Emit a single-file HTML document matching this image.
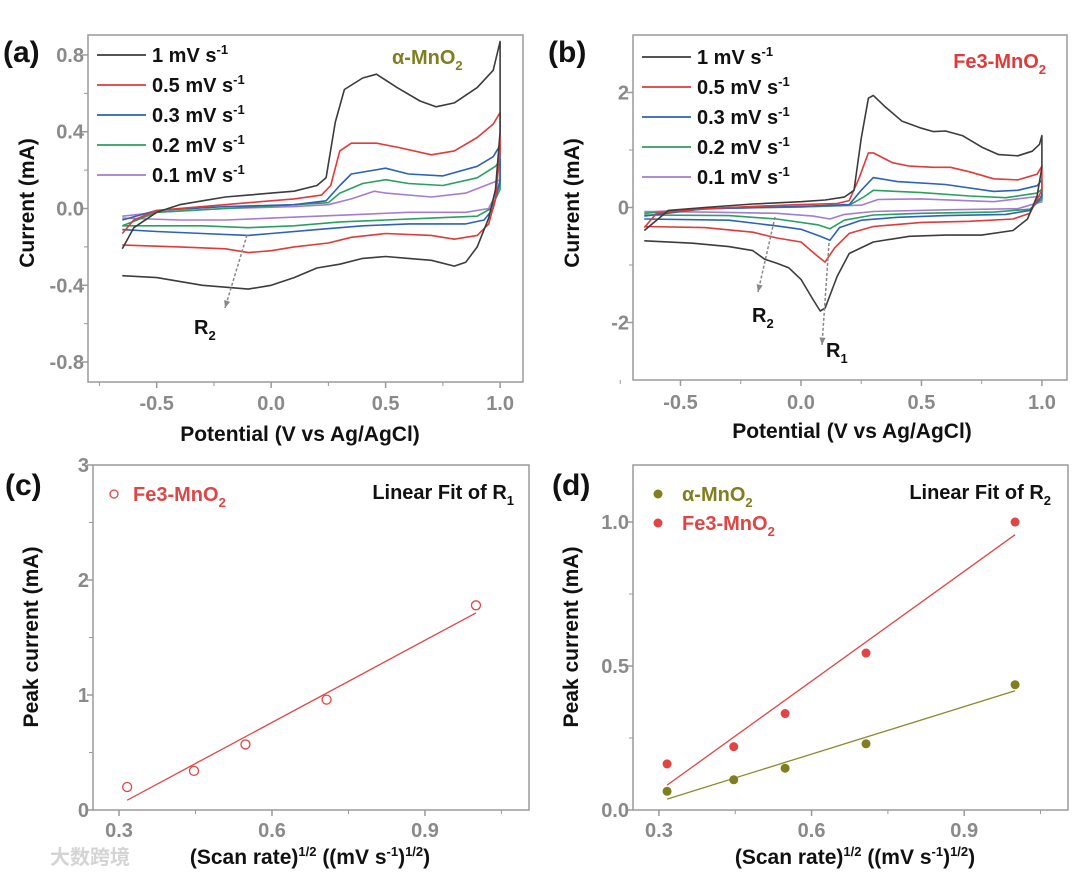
<!DOCTYPE html>
<html><head><meta charset="utf-8">
<style>
html,body{margin:0;padding:0;background:#fff;}
svg{display:block;font-family:"Liberation Sans","Noto Sans CJK SC",sans-serif;}
.tick{fill:#8a8a8a;font-weight:bold;font-size:20px;}
.title{fill:#111;font-weight:bold;font-size:21px;}
.leg{fill:#111;font-weight:bold;font-size:20px;}
.pl{fill:#111;font-weight:bold;font-size:30px;}
</style></head>
<body>
<svg id="fig" width="1080" height="874" viewBox="0 0 1080 874"></svg>
<script>
// ---------- DATA ----------
const scanRates = ["1","0.5","0.3","0.2","0.1"];
const cvColors = ["#3c3c3c","#e03a3a","#2c62b8","#29a05e","#a57ccf"];
// panel (a) alpha-MnO2: [potential, current] forward and reverse sweeps
const aFwd = [
 [[-0.65,-0.21],[-0.6,-0.1],[-0.5,-0.02],[-0.4,0.02],[-0.3,0.04],[-0.2,0.06],[-0.1,0.07],[0,0.08],[0.1,0.09],[0.2,0.12],[0.24,0.16],[0.28,0.45],[0.32,0.62],[0.4,0.68],[0.46,0.7],[0.55,0.63],[0.65,0.56],[0.72,0.53],[0.8,0.55],[0.9,0.63],[0.97,0.72],[1.0,0.87]],
 [[-0.65,-0.13],[-0.6,-0.06],[-0.5,-0.01],[-0.3,0.01],[-0.1,0.03],[0.1,0.05],[0.22,0.07],[0.26,0.12],[0.3,0.3],[0.35,0.34],[0.46,0.34],[0.55,0.32],[0.7,0.28],[0.8,0.3],[0.9,0.37],[0.97,0.44],[1.0,0.5]],
 [[-0.65,-0.06],[-0.5,-0.01],[-0.2,0.01],[0.1,0.02],[0.24,0.04],[0.3,0.12],[0.35,0.18],[0.5,0.21],[0.6,0.18],[0.75,0.17],[0.9,0.22],[0.97,0.27],[1.0,0.33]],
 [[-0.65,-0.09],[-0.5,-0.02],[-0.2,0.0],[0.1,0.02],[0.25,0.03],[0.3,0.08],[0.4,0.13],[0.5,0.15],[0.6,0.13],[0.75,0.12],[0.9,0.16],[0.98,0.22],[1.0,0.25]],
 [[-0.65,-0.04],[-0.5,-0.02],[-0.2,0.0],[0.1,0.01],[0.25,0.02],[0.35,0.05],[0.45,0.09],[0.5,0.08],[0.7,0.06],[0.85,0.08],[1.0,0.15]]
];
const aRev = [
 [[1.0,0.4],[0.98,0.1],[0.95,-0.05],[0.9,-0.2],[0.85,-0.28],[0.8,-0.3],[0.7,-0.27],[0.6,-0.26],[0.5,-0.25],[0.4,-0.26],[0.3,-0.29],[0.2,-0.31],[0.1,-0.36],[0,-0.4],[-0.1,-0.42],[-0.2,-0.41],[-0.3,-0.4],[-0.4,-0.38],[-0.5,-0.36],[-0.65,-0.35]],
 [[1.0,0.3],[0.98,0.05],[0.95,-0.08],[0.9,-0.14],[0.8,-0.16],[0.7,-0.14],[0.5,-0.13],[0.35,-0.15],[0.25,-0.18],[0.1,-0.2],[0,-0.22],[-0.1,-0.23],[-0.2,-0.21],[-0.4,-0.2],[-0.65,-0.19]],
 [[1.0,0.15],[0.97,0.0],[0.93,-0.06],[0.85,-0.08],[0.6,-0.08],[0.4,-0.09],[0.2,-0.11],[0.0,-0.13],[-0.1,-0.14],[-0.3,-0.13],[-0.5,-0.12],[-0.65,-0.11]],
 [[1.0,0.1],[0.96,0.0],[0.9,-0.04],[0.7,-0.05],[0.5,-0.06],[0.3,-0.07],[0.1,-0.09],[-0.1,-0.1],[-0.3,-0.09],[-0.5,-0.09],[-0.65,-0.09]],
 [[1.0,0.12],[0.95,0.0],[0.85,-0.02],[0.6,-0.02],[0.4,-0.03],[0.2,-0.04],[0,-0.05],[-0.2,-0.06],[-0.4,-0.06],[-0.65,-0.05]]
];
// panel (b) Fe3-MnO2
const bFwd = [
 [[-0.65,-0.4],[-0.55,-0.05],[-0.4,0.0],[-0.2,0.06],[0,0.1],[0.1,0.13],[0.18,0.18],[0.22,0.3],[0.25,1.2],[0.28,1.9],[0.3,1.95],[0.35,1.75],[0.42,1.5],[0.5,1.38],[0.55,1.32],[0.6,1.33],[0.67,1.25],[0.75,1.05],[0.82,0.92],[0.9,0.9],[0.96,0.98],[0.99,1.1],[1.0,1.25]],
 [[-0.65,-0.35],[-0.6,-0.1],[-0.4,-0.02],[-0.2,0.02],[0,0.05],[0.15,0.07],[0.2,0.12],[0.24,0.5],[0.28,0.95],[0.3,0.95],[0.38,0.78],[0.45,0.72],[0.55,0.7],[0.62,0.7],[0.7,0.62],[0.8,0.5],[0.9,0.48],[0.98,0.58],[1.0,0.72]],
 [[-0.65,-0.15],[-0.4,-0.02],[0,0.02],[0.2,0.05],[0.25,0.3],[0.3,0.52],[0.4,0.45],[0.6,0.4],[0.8,0.28],[0.9,0.3],[0.98,0.38],[1.0,0.48]],
 [[-0.65,-0.1],[-0.4,-0.02],[0,0.01],[0.2,0.04],[0.26,0.18],[0.3,0.3],[0.5,0.26],[0.7,0.2],[0.85,0.17],[0.98,0.25],[1.0,0.32]],
 [[-0.65,-0.08],[-0.3,-0.01],[0,0.01],[0.25,0.04],[0.32,0.14],[0.5,0.15],[0.8,0.1],[1.0,0.2]]
];
const bRev = [
 [[1.0,0.7],[0.98,0.2],[0.94,-0.2],[0.88,-0.4],[0.75,-0.48],[0.6,-0.48],[0.45,-0.5],[0.3,-0.6],[0.2,-0.8],[0.15,-1.2],[0.1,-1.75],[0.08,-1.8],[0.05,-1.6],[0.0,-1.25],[-0.05,-1.05],[-0.1,-0.97],[-0.15,-0.9],[-0.2,-0.75],[-0.3,-0.68],[-0.45,-0.62],[-0.65,-0.58]],
 [[1.0,0.3],[0.95,-0.1],[0.88,-0.2],[0.7,-0.24],[0.5,-0.26],[0.3,-0.33],[0.2,-0.45],[0.14,-0.7],[0.1,-0.95],[0.07,-0.85],[0.0,-0.6],[-0.1,-0.53],[-0.2,-0.43],[-0.4,-0.35],[-0.65,-0.33]],
 [[1.0,0.2],[0.95,-0.05],[0.85,-0.12],[0.6,-0.14],[0.4,-0.17],[0.25,-0.22],[0.16,-0.35],[0.12,-0.57],[0.08,-0.5],[0,-0.38],[-0.1,-0.32],[-0.3,-0.22],[-0.65,-0.2]],
 [[1.0,0.15],[0.95,-0.03],[0.8,-0.08],[0.5,-0.1],[0.3,-0.13],[0.18,-0.22],[0.12,-0.37],[0.07,-0.3],[-0.1,-0.2],[-0.3,-0.14],[-0.65,-0.13]],
 [[1.0,0.1],[0.9,-0.02],[0.6,-0.04],[0.3,-0.07],[0.18,-0.12],[0.12,-0.2],[0.05,-0.15],[-0.1,-0.1],[-0.4,-0.08],[-0.65,-0.07]]
];
// panels (c),(d): sqrt(scan rate) vs peak current
const sqrtRate = [0.316,0.447,0.548,0.707,1.0];
const cFe = [0.2,0.34,0.57,0.96,1.78];
const dAlpha = [0.065,0.105,0.145,0.23,0.435];
const dFe = [0.16,0.22,0.335,0.545,1.0];
const cvXTicks = [-0.5,0.0,0.5,1.0];
const aYTicks = [0.8,0.4,0.0,-0.4,-0.8];
const bYTicks = [2,0,-2];
const cdXTicks = [0.3,0.6,0.9];
const cYTicks = [0,1,2,3];
const dYTicks = [0.0,0.5,1.0];

// ---------- DRAW ----------
const svg = document.getElementById('fig');
const NS = "http://www.w3.org/2000/svg";
function mk(tag, attrs, parent){const e=document.createElementNS(NS,tag);for(const k in attrs)e.setAttribute(k,attrs[k]);(parent||svg).appendChild(e);return e;}
function txt(x,y,s,cls,parent,extra){const e=mk('text',Object.assign({x:x,y:y,class:cls},extra||{}),parent);e.innerHTML=s;return e;}
const sub=n=>'<tspan dy="6" font-size="13">'+n+'</tspan>';
const sup=n=>'<tspan dy="-8" font-size="13">'+n+'</tspan>';

function panel(name,L,T,R,B,xr,yr,xt,yt,xfmt,yfmt,xminor,yminor,xlabY){
  const g=mk('g',{});
  
  
  const sx=v=>L+(v-xr[0])/(xr[1]-xr[0])*(R-L);
  const sy=v=>B-(v-yr[0])/(yr[1]-yr[0])*(B-T);
  const fr=mk('rect',{x:L,y:T,width:R-L,height:B-T,fill:'none',stroke:'#9a9a9a','stroke-width':1.5},g);
  
  
  xt.forEach(v=>{mk('line',{x1:sx(v),x2:sx(v),y1:B,y2:B+6,stroke:'#9a9a9a','stroke-width':1.5},g);
    const t=txt(sx(v),xlabY,xfmt(v),'tick',g,{'text-anchor':'middle'});
    
    });
  xminor.forEach(v=>mk('line',{x1:sx(v),x2:sx(v),y1:B,y2:B+4,stroke:'#9a9a9a','stroke-width':1},g));
  yt.forEach(v=>{mk('line',{x1:L-6,x2:L,y1:sy(v),y2:sy(v),stroke:'#9a9a9a','stroke-width':1.5},g);
    const t=txt(L-4,sy(v)+7,yfmt(v),'tick',g,{'text-anchor':'end'});
    
    });
  yminor.forEach(v=>mk('line',{x1:L-4,x2:L,y1:sy(v),y2:sy(v),stroke:'#9a9a9a','stroke-width':1},g));
  return {g,sx,sy};
}
function path(pts,sx,sy){return pts.map((p,i)=>(i?'L':'M')+sx(p[0]).toFixed(1)+' '+sy(p[1]).toFixed(1)).join(' ');}
function cv(P,fwd,rev,prefix){
  for(let i=fwd.length-1;i>=0;i--){
    const d=path(fwd[i].concat(rev[i]),P.sx,P.sy);
    const e=mk('path',{d:d,fill:'none',stroke:cvColors[i],'stroke-width':1.6,'stroke-linejoin':'round'},P.g);
    
    
  }
}
function legendCV(x,y0,dy){
  scanRates.forEach((r,i)=>{
    const y=y0+i*dy;
    const l=mk('line',{x1:x,x2:x+49,y1:y,y2:y,stroke:cvColors[i],'stroke-width':1.8});
    
    
    const t=txt(x+55,y+7,r+' mV s'+sup('-1'),'leg');
    
    
  });
}
function arrow(x1,y1,x2,y2){
  mk('line',{x1,y1,x2,y2,stroke:'#888','stroke-width':1.5,'stroke-dasharray':'3,2'});
  const a=Math.atan2(y2-y1,x2-x1),s=8;
  const p=[[x2,y2],[x2-s*Math.cos(a-0.4),y2-s*Math.sin(a-0.4)],[x2-s*Math.cos(a+0.4),y2-s*Math.sin(a+0.4)]];
  const e=mk('polygon',{points:p.map(q=>q.join(',')).join(' '),fill:'#888'});
  
  
}
function fitLine(P,xs,ys,color,name){
  const n=xs.length,mx=xs.reduce((a,b)=>a+b)/n,my=ys.reduce((a,b)=>a+b)/n;
  let sxy=0,sxx=0;xs.forEach((x,i)=>{sxy+=(x-mx)*(ys[i]-my);sxx+=(x-mx)*(x-mx);});
  const k=sxy/sxx,b=my-k*mx;
  const e=mk('line',{x1:P.sx(xs[0]),y1:P.sy(k*xs[0]+b),x2:P.sx(xs[n-1]),y2:P.sy(k*xs[n-1]+b),stroke:color,'stroke-width':1.3},P.g);
  
  
}
const f1=v=>v.toFixed(1), f0=v=>String(v);
const xTitle='(Scan rate)'+sup('1/2')+'<tspan dy="8">  ((mV s</tspan>'+sup('-1')+'<tspan dy="8">)</tspan>'+sup('1/2')+'<tspan dy="8">)</tspan>';

// (a)
const A=panel('panel-a',88,35,523,382,[-0.8,1.1],[-0.904,0.904],cvXTicks,aYTicks,f1,f1,[-0.75,-0.25,0.25,0.75],[0.6,0.2,-0.2,-0.6],410);
cv(A,aFwd,aRev,'a');
legendCV(97,55,30);
txt(392,64,'α-MnO'+sub('2'),'leg',null,{style:'fill:#7f7f1f'});
arrow(247,235,225,308);
txt(194,334,'R'+sub('2'),'leg');
txt(300,441,'Potential (V vs Ag/AgCl)','title',null,{'text-anchor':'middle'});
txt(0,0,'Current (mA)','title',null,{'text-anchor':'middle',transform:'translate(34,203) rotate(-90)'});
txt(3,62,'(a)','pl');

// (b)
const Bp=panel('panel-b',633,35,1067,380,[-0.697,1.104],[-3,3],cvXTicks,bYTicks,f1,f0,[-0.75,-0.25,0.25,0.75],[1,-1],409);
cv(Bp,bFwd,bRev,'b');
legendCV(642,57,30);
txt(1046,68,'Fe3-MnO'+sub('2'),'leg',null,{style:'fill:#e03a3a','text-anchor':'end'});
arrow(775,217,758,292);
arrow(829,243,822,345);
txt(752,322,'R'+sub('2'),'leg');
txt(826,357,'R'+sub('1'),'leg');
txt(852,438,'Potential (V vs Ag/AgCl)','title',null,{'text-anchor':'middle'});
txt(0,0,'Current (mA)','title',null,{'text-anchor':'middle',transform:'translate(579,203) rotate(-90)'});
txt(548,62,'(b)','pl');

// (c)
const C=panel('panel-c',93,465,529,810,[0.249,1.104],[0,3],cdXTicks,cYTicks,f1,f0,[0.45,0.75,1.05],[0.5,1.5,2.5],837);
fitLine(C,sqrtRate,cFe,'#e04545','fit-r1-fe3');
sqrtRate.forEach((x,i)=>{const e=mk('circle',{cx:C.sx(x),cy:C.sy(cFe[i]),r:4.5,fill:'none',stroke:'#e04545','stroke-width':1.3},C.g);
 
 });
mk('circle',{cx:114,cy:494,r:4,fill:'none',stroke:'#e04545','stroke-width':1.3});
txt(133,501,'Fe3-MnO'+sub('2'),'leg',null,{style:'fill:#e04545'});
txt(514,499,'Linear Fit of R'+sub('1'),'leg',null,{'text-anchor':'end'});
txt(310,864,xTitle,'title',null,{'text-anchor':'middle'});
txt(0,0,'Peak current (mA)','title',null,{'text-anchor':'middle',transform:'translate(38,637) rotate(-90)'});
txt(5,495,'(c)','pl');
txt(50,864,'大数跨境','leg',null,{style:'fill:#d4d4d4'});

// (d)
const D=panel('panel-d',633,465,1068,810,[0.249,1.104],[0,1.198],cdXTicks,dYTicks,f1,f1,[0.45,0.75,1.05],[0.25,0.75],837);
fitLine(D,sqrtRate,dFe,'#e04545','fit-r2-fe3');
fitLine(D,sqrtRate,dAlpha,'#8a8a2a','fit-r2-alpha');
sqrtRate.forEach((x,i)=>{
 const e=mk('circle',{cx:D.sx(x),cy:D.sy(dFe[i]),r:4.5,fill:'#e04545'},D.g);
 
 
 const f=mk('circle',{cx:D.sx(x),cy:D.sy(dAlpha[i]),r:4.5,fill:'#7f7f1f'},D.g);
 
 
});
mk('circle',{cx:658,cy:494,r:4.5,fill:'#7f7f1f'});
mk('circle',{cx:658,cy:523,r:4.5,fill:'#e04545'});
txt(682,501,'α-MnO'+sub('2'),'leg',null,{style:'fill:#7f7f1f'});
txt(682,530,'Fe3-MnO'+sub('2'),'leg',null,{style:'fill:#e04545'});
txt(1051,499,'Linear Fit of R'+sub('2'),'leg',null,{'text-anchor':'end'});
txt(855,864,xTitle,'title',null,{'text-anchor':'middle'});
txt(0,0,'Peak current (mA)','title',null,{'text-anchor':'middle',transform:'translate(578,637) rotate(-90)'});
txt(552,495,'(d)','pl');
</script>
</body></html>
